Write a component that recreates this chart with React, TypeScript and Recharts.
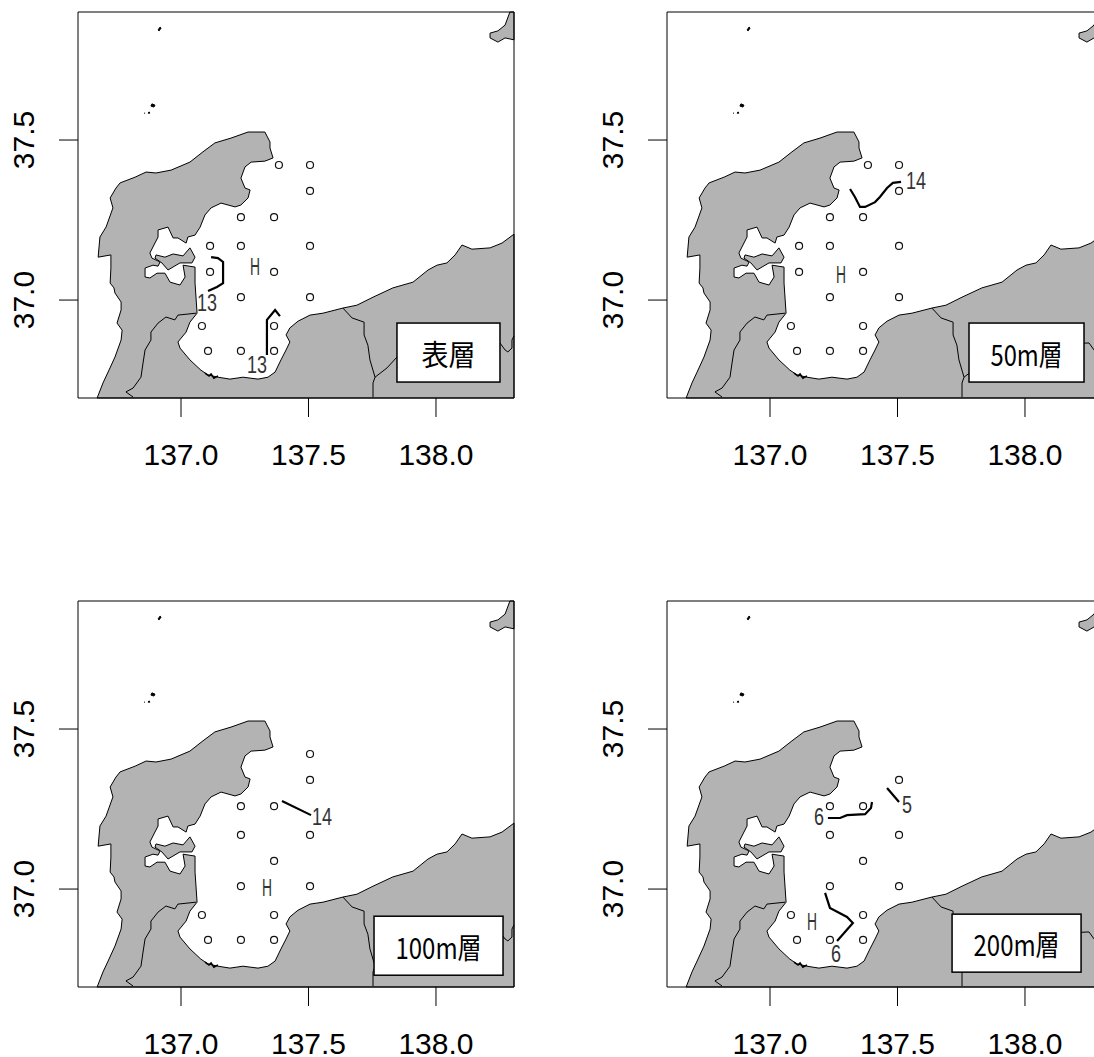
import React from "react";
import { ScatterChart, Scatter, XAxis, YAxis } from "recharts";

type P = [number, number];

const X_DOMAIN: P = [136.596, 138.306];
const Y_DOMAIN: P = [36.694, 37.9];
const X_TICKS = [137, 137.5, 138];
const Y_TICKS = [37, 37.5];

const mainland: P[] = [
  [136.671, 36.694], [136.694, 36.741], [136.714, 36.775], [136.741, 36.822], [136.765, 36.875], [136.769, 36.906],
  [136.749, 36.928], [136.765, 36.969], [136.765, 36.994], [136.741, 37.022], [136.737, 37.038], [136.722, 37.053],
  [136.725, 37.1], [136.725, 37.141], [136.675, 37.134], [136.682, 37.197], [136.706, 37.228], [136.733, 37.288],
  [136.722, 37.319], [136.745, 37.35], [136.761, 37.366], [136.82, 37.384], [136.863, 37.4], [136.902, 37.397],
  [136.961, 37.406], [137.035, 37.431], [137.086, 37.463], [137.133, 37.491], [137.196, 37.506], [137.263, 37.525],
  [137.329, 37.525], [137.349, 37.494], [137.349, 37.475], [137.361, 37.444], [137.329, 37.434], [137.275, 37.431],
  [137.251, 37.416], [137.235, 37.381], [137.251, 37.35], [137.271, 37.344], [137.263, 37.319], [137.235, 37.297],
  [137.212, 37.291], [137.157, 37.303], [137.118, 37.288], [137.094, 37.266], [137.075, 37.228], [137.055, 37.203],
  [137.027, 37.197], [137.02, 37.178], [136.988, 37.194], [136.969, 37.194], [136.949, 37.228], [136.91, 37.219],
  [136.91, 37.197], [136.878, 37.147], [136.886, 37.131], [136.918, 37.119], [136.91, 37.106], [136.89, 37.109],
  [136.859, 37.1], [136.859, 37.072], [136.878, 37.069], [136.906, 37.084], [136.937, 37.084], [136.957, 37.056],
  [136.996, 37.047], [137.016, 37.072], [137.008, 37.109], [137.055, 37.103], [137.055, 37.053], [137.063, 36.959],
  [137.035, 36.931], [137.02, 36.9], [136.988, 36.869], [136.996, 36.85], [137.035, 36.813], [137.078, 36.781],
  [137.106, 36.766], [137.145, 36.759], [137.192, 36.753], [137.243, 36.759], [137.302, 36.753], [137.341, 36.759],
  [137.369, 36.775], [137.392, 36.813], [137.412, 36.844], [137.427, 36.869], [137.412, 36.891], [137.427, 36.913],
  [137.459, 36.934], [137.506, 36.953], [137.557, 36.959], [137.635, 36.975], [137.69, 36.984], [137.753, 37.009],
  [137.831, 37.038], [137.91, 37.056], [137.969, 37.094], [138.004, 37.109], [138.043, 37.116], [138.075, 37.141],
  [138.102, 37.172], [138.141, 37.159], [138.212, 37.163], [138.259, 37.178], [138.306, 37.206], [138.306, 36.694],
  [136.671, 36.694],
];
const notojima: P[] = [
  [136.902, 37.141], [136.937, 37.134], [136.969, 37.144], [137.008, 37.138], [137.035, 37.163], [137.055, 37.134],
  [137.043, 37.116], [136.996, 37.116], [136.949, 37.094], [136.925, 37.116], [136.898, 37.131], [136.902, 37.141],
];
const sado: P[] = [
  [138.29, 37.9], [138.271, 37.859], [138.243, 37.841], [138.212, 37.834], [138.212, 37.819], [138.243, 37.806],
  [138.271, 37.819], [138.306, 37.813], [138.306, 37.9], [138.29, 37.9],
];
const hegura: P[] = [[136.91, 37.844], [136.918, 37.853], [136.922, 37.85], [136.914, 37.841], [136.91, 37.844]];
const nanatsu1: P[] = [[136.886, 37.613], [136.898, 37.609], [136.894, 37.603], [136.882, 37.606], [136.886, 37.613]];
const nanatsu2: P[] = [[136.875, 37.588], [136.878, 37.584], [136.871, 37.584], [136.875, 37.588]];
const nanatsu3: P[] = [[136.855, 37.584], [136.859, 37.584]];
const southCoastScribble: P[] = [[137.094, 36.772], [137.11, 36.763], [137.118, 36.769], [137.129, 36.756], [137.145, 36.763]];

const borderA: P[] = [
  [137.059, 36.959], [136.988, 36.953], [136.976, 36.938], [136.941, 36.947], [136.91, 36.928], [136.882, 36.9],
  [136.882, 36.875], [136.859, 36.844], [136.851, 36.803], [136.843, 36.759], [136.812, 36.725], [136.784, 36.713],
  [136.812, 36.697],
];
const borderB: P[] = [
  [137.635, 36.975], [137.671, 36.944], [137.718, 36.931], [137.718, 36.891], [137.733, 36.859], [137.741, 36.813],
  [137.761, 36.759], [137.753, 36.741], [137.753, 36.697],
];
const borderC: P[] = [
  [137.761, 36.759], [137.808, 36.788], [137.847, 36.822], [138.055, 36.859], [138.251, 36.866], [138.271, 36.844],
  [138.282, 36.838], [138.298, 36.85], [138.298, 36.875], [138.306, 36.888],
];

const stationsAll: P[] = [
  [137.384, 37.422], [137.506, 37.422], [137.506, 37.341], [137.235, 37.259], [137.365, 37.259], [137.114, 37.169],
  [137.235, 37.169], [137.506, 37.169], [137.114, 37.088], [137.365, 37.088], [137.235, 37.009], [137.506, 37.009],
  [137.082, 36.919], [137.365, 36.919], [137.106, 36.841], [137.235, 36.841], [137.365, 36.841],
];
const stations100: P[] = [
  [137.506, 37.422], [137.506, 37.341], [137.235, 37.259], [137.365, 37.259], [137.235, 37.169], [137.506, 37.169],
  [137.365, 37.088], [137.235, 37.009], [137.506, 37.009], [137.082, 36.919], [137.365, 36.919], [137.106, 36.841],
  [137.235, 36.841], [137.365, 36.841],
];
const stations200: P[] = [
  [137.506, 37.341], [137.235, 37.259], [137.365, 37.259], [137.235, 37.169], [137.506, 37.169], [137.365, 37.088],
  [137.235, 37.009], [137.506, 37.009], [137.082, 36.919], [137.365, 36.919], [137.106, 36.841], [137.235, 36.841],
  [137.365, 36.841],
];

const contours0: P[][] = [
  [[137.118, 37.134], [137.145, 37.131], [137.165, 37.119], [137.165, 37.053], [137.141, 37.041], [137.106, 37.028]],
  [[137.337, 36.828], [137.337, 36.938], [137.369, 36.969], [137.388, 36.95]],
];
const contours50: P[][] = [
  [[137.314, 37.347], [137.333, 37.322], [137.353, 37.291], [137.373, 37.291], [137.412, 37.306], [137.431, 37.322], [137.459, 37.35], [137.482, 37.366], [137.514, 37.369]],
];
const contours100: P[][] = [[[137.396, 37.275], [137.51, 37.231]]];
const contours200: P[][] = [
  [[137.227, 37.222], [137.275, 37.222], [137.302, 37.231], [137.373, 37.234], [137.396, 37.253], [137.4, 37.272]],
  [[137.459, 37.316], [137.506, 37.272]],
  [[137.216, 36.988], [137.235, 36.941], [137.302, 36.913], [137.325, 36.894], [137.263, 36.838]],
];

type Lab = [number, number, string];
const labels0: Lab[] = [[137.102, 36.991, "13"], [137.298, 36.797, "13"], [137.29, 37.103, "H"]];
const labels50: Lab[] = [[137.573, 37.372, "14"], [137.278, 37.078, "H"]];
const labels100: Lab[] = [[137.553, 37.225, "14"], [137.337, 37.003, "H"]];
const labels200: Lab[] = [[137.192, 37.225, "6"], [137.537, 37.263, "5"], [137.259, 36.797, "6"], [137.165, 36.897, "H"]];

const toPts = (a: P[]) => a.map(([lon, lat]) => ({ lon, lat }));
const frame = toPts([
  [X_DOMAIN[0], Y_DOMAIN[0]], [X_DOMAIN[0], Y_DOMAIN[1]], [X_DOMAIN[1], Y_DOMAIN[1]], [X_DOMAIN[1], Y_DOMAIN[0]], [X_DOMAIN[0], Y_DOMAIN[0]],
]);

const LAND = "#b3b3b3";
const Hidden = () => <g />;

const Station = (p: any) => <circle cx={p.cx} cy={p.cy} r={3.5} fill="none" stroke="#111" strokeWidth={1.2} />;

const ContourLabel = (p: any) => (
  <text
    x={p.cx}
    y={p.cy}
    textAnchor="middle"
    dominantBaseline="central"
    fontFamily="'Liberation Sans', sans-serif"
    fontSize={23}
    fill="#333"
    textLength={p.payload.text.length * 10}
    lengthAdjust="spacingAndGlyphs"
  >
    {p.payload.text}
  </text>
);

const makeBox = (w: number, h: number, tw: number) => (p: any) => (
  <g>
    <rect x={p.cx - w / 2} y={p.cy - h / 2} width={w} height={h} fill="#fff" stroke="#000" strokeWidth={1.5} />
    <text
      x={p.cx}
      y={p.cy}
      textAnchor="middle"
      dominantBaseline="central"
      fontFamily="'Noto Sans CJK JP', sans-serif"
      fontSize={29}
      fill="#000"
      textLength={tw}
      lengthAdjust="spacingAndGlyphs"
    >
      {p.payload.text}
    </text>
  </g>
);

const XTick = (p: any) => (
  <g>
    <line x1={p.x} x2={p.x} y1={p.y - 19} y2={p.y} stroke="#000" strokeWidth={1} />
    <text x={p.x} y={p.y} dy={48} textAnchor="middle" fontFamily="'Liberation Sans', Arial, sans-serif" fontSize={30} fill="#000">
      {Number(p.payload.value).toFixed(1)}
    </text>
  </g>
);
const YTick = (p: any) => (
  <text
    x={p.x}
    y={p.y}
    transform={`rotate(-90 ${p.x - 25} ${p.y})`}
    dx={-25}
    textAnchor="middle"
    fontFamily="'Liberation Sans', Arial, sans-serif"
    fontSize={30}
    fill="#000"
  >
    {Number(p.payload.value).toFixed(1)}
  </text>
);

type PanelProps = {
  left: number;
  top: number;
  stations: P[];
  contours: P[][];
  labels: Lab[];
  boxPos: P;
  boxText: string;
  boxW: number;
  boxH: number;
  textW: number;
};

function Panel({ left, top, stations, contours, labels, boxPos, boxText, boxW, boxH, textW }: PanelProps) {
  const poly = (a: P[], key: string, fill: string = LAND) => (
    <Scatter
      key={key}
      data={toPts(a)}
      line={{ fill, stroke: "#000", strokeWidth: 1 }}
      lineType="joint"
      shape={Hidden}
      isAnimationActive={false}
    />
  );
  const path = (a: P[], key: string, sw: number) => (
    <Scatter
      key={key}
      data={toPts(a)}
      line={{ fill: "none", stroke: "#000", strokeWidth: sw }}
      lineType="joint"
      shape={Hidden}
      isAnimationActive={false}
    />
  );
  return (
    <div style={{ position: "absolute", left, top, width: 540, height: 470 }}>
      <ScatterChart width={540} height={470} margin={{ top: 12, right: 26, bottom: 0, left: 0 }}>
        <XAxis
          type="number"
          dataKey="lon"
          domain={X_DOMAIN}
          ticks={X_TICKS}
          height={72}
          tickSize={19}
          tickMargin={0}
          axisLine={false}
          tickLine={false}
          tick={XTick}
          interval={0}
        />
        <YAxis
          type="number"
          dataKey="lat"
          domain={Y_DOMAIN}
          ticks={Y_TICKS}
          width={78}
          tickSize={19}
          tickMargin={0}
          axisLine={false}
          tickLine={{ stroke: "#000" }}
          tick={YTick}
          interval={0}
        />
        {poly(mainland, "main")}
        {poly(notojima, "noto")}
        {poly(sado, "sado")}
        {poly(hegura, "heg", "#000")}
        {poly(nanatsu1, "n1", "#000")}
        {poly(nanatsu2, "n2", "#000")}
        {path(nanatsu3, "n3", 1)}
        {path(southCoastScribble, "scr", 1.5)}
        {path(borderA, "ba", 1)}
        {path(borderB, "bb", 1)}
        {path(borderC, "bc", 1)}
        <Scatter data={toPts(stations)} shape={Station} isAnimationActive={false} />
        {contours.map((c, i) => path(c, `c${i}`, 2.2))}
        <Scatter
          data={labels.map(([lon, lat, text]) => ({ lon, lat, text }))}
          shape={ContourLabel}
          isAnimationActive={false}
        />
        <Scatter
          data={[{ lon: boxPos[0], lat: boxPos[1], text: boxText }]}
          shape={makeBox(boxW, boxH, textW)}
          isAnimationActive={false}
        />
        <Scatter
          data={frame}
          line={{ fill: "none", stroke: "#000", strokeWidth: 1 }}
          lineType="joint"
          shape={Hidden}
          isAnimationActive={false}
        />
      </ScatterChart>
    </div>
  );
}

export default function App() {
  return (
    <div style={{ position: "absolute", left: 0, top: 0, width: 1094, height: 1057, overflow: "hidden", background: "#fff" }}>
      <Panel left={0} top={0} stations={stationsAll} contours={contours0} labels={labels0} boxPos={[138.049, 36.836]} boxText="表層" boxW={103} boxH={59} textW={54} />
      <Panel left={589} top={0} stations={stationsAll} contours={contours50} labels={labels50} boxPos={[138.006, 36.836]} boxText="50m層" boxW={115} boxH={59} textW={72} />
      <Panel left={0} top={589} stations={stations100} contours={contours100} labels={labels100} boxPos={[138.01, 36.823]} boxText="100m層" boxW={129} boxH={59} textW={86} />
      <Panel left={589} top={589} stations={stations200} contours={contours200} labels={labels200} boxPos={[137.967, 36.831]} boxText="200m層" boxW={129} boxH={58} textW={86} />
    </div>
  );
}
